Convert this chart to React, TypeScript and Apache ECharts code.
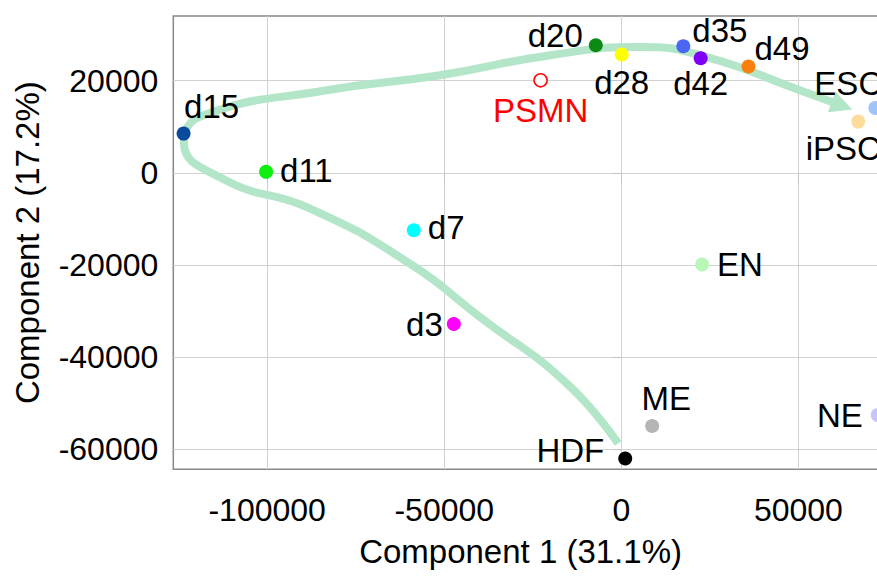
import React, { useEffect, useRef } from "react";
import * as echarts from "echarts";

// ---- data ----
const sampleNames = ["HDF", "d3", "d7", "d11", "d15", "d20", "d28", "d35", "d42", "d49", "iPSC", "ESC", "EN", "ME", "NE", "PSMN"];
const component1 = [1100, -47300, -58600, -100300, -123600, -7200, 100, 17500, 22400, 35900, 66900, 71700, 22800, 8700, 72400, -22800];
const component2 = [-61950, -32800, -12450, 200, 8500, 27650, 25650, 27450, 24850, 23050, 11100, 14050, -19900, -54900, -52550, 20050];

// trajectory (differentiation path) drawn as an annotation curve
const pathX = [-900, -15400, -39900, -59700, -87900, -112000, -123500, -118500, -83200, -51200, -20000, 5300, 24100, 50400, 62300];
const pathY = [-58700, -45700, -31300, -19700, -7750, -1500, 6500, 12300, 17900, 21150, 25500, 27300, 25100, 17900, 14550];

const xTickValues = [-100000, -50000, 0, 50000];
const yTickValues = [-60000, -40000, -20000, 0, 20000];

const xTitle = "Component 1 (31.1%)";
const yTitle = "Component 2 (17.2%)";

// ---- styles ----
const pointColors: Record<string, string> = {
  HDF: "#000000",
  d3: "#ff00ff",
  d7: "#00ffff",
  d11: "#11ee11",
  d15: "#0a4a9c",
  d20: "#0d8a14",
  d28: "#ffff00",
  d35: "#4a66f5",
  d42: "#7f00f5",
  d49: "#f7800f",
  iPSC: "#fddc9c",
  ESC: "#a0c4fa",
  EN: "#b9f7b9",
  ME: "#b4b4b4",
  NE: "#c9c3fb",
  PSMN: "#ff0000",
};

const labelCfg: Record<string, any> = {
  HDF: { position: "left", distance: 14, offset: [0, -8] },
  d3: { position: "left", distance: 4 },
  d7: { position: "right", distance: 7, offset: [0, -3] },
  d11: { position: "right", distance: 7, offset: [0, -1] },
  d15: { position: "top", distance: 4, offset: [28, 0] },
  d20: { position: "left", distance: 6, offset: [0, -10] },
  d28: { position: "bottom", distance: 4 },
  d35: { position: "right", distance: 2, offset: [0, -16] },
  d42: { position: "bottom", distance: 2 },
  d49: { position: "right", distance: 3, offset: [-4, -18] },
  iPSC: { position: "bottom", distance: 3, offset: [-15, 0] },
  ESC: { position: "top", distance: 1, offset: [-27, 0] },
  EN: { position: "right", distance: 8 },
  ME: { position: "top", distance: 4, offset: [14, 0] },
  NE: { position: "left", distance: 8 },
  PSMN: { position: "bottom", distance: 6 },
};

const FONT = "'Liberation Sans', Arial, Helvetica, sans-serif";
const CURVE_COLOR = "#b3e6c9";

export default function App() {
  const ref = useRef<HTMLDivElement>(null);

  useEffect(() => {
    if (!ref.current) return;
    const chart = echarts.init(ref.current, undefined, { renderer: "svg" });

    const pointData = sampleNames.map((name, i) => {
      const isHollow = name === "PSMN";
      return {
        name,
        value: [component1[i], component2[i]],
        symbolSize: isHollow ? 13 : 14,
        itemStyle: isHollow
          ? { color: "#ffffff", borderColor: pointColors[name], borderWidth: 1.5, opacity: 1 }
          : { color: pointColors[name], borderWidth: 0, opacity: 1 },
        label: {
          show: true,
          formatter: name,
          fontSize: 33,
          fontFamily: FONT,
          color: isHollow ? "#ff0000" : "#000000",
          opacity: 1,
          ...labelCfg[name],
        },
      };
    });

    const curveData = pathX.map((x, i) => [x, pathY[i]]);
    const last = pathX.length - 1;
    const plain = (v: number) => String(v);

    chart.setOption({
      animation: false,
      backgroundColor: "#ffffff",
      grid: {
        left: 173.3,
        top: 16,
        width: 784.5,
        height: 453.3,
        show: true,
        borderColor: "#888888",
        borderWidth: 1.5,
        backgroundColor: "transparent",
      },
      xAxis: {
        type: "value",
        min: -126500,
        max: 95000,
        name: xTitle,
        nameLocation: "middle",
        nameGap: 66,
        nameTextStyle: { fontSize: 33, color: "#000", fontFamily: FONT, padding: [0, 90, 0, 0] },
        axisLine: { show: false },
        axisTick: { show: true, length: 10, lineStyle: { color: "#c4c4c4" }, customValues: xTickValues },
        axisLabel: { customValues: xTickValues, formatter: plain, fontSize: 32, color: "#000", fontFamily: FONT, margin: 25 },
        splitLine: { show: true, lineStyle: { color: "#d2d2d2", width: 1 } },
      },
      yAxis: {
        type: "value",
        min: -64300,
        max: 34000,
        name: yTitle,
        nameLocation: "middle",
        nameGap: 129,
        nameTextStyle: { fontSize: 33, color: "#000", fontFamily: FONT },
        axisLine: { show: false },
        axisTick: { show: true, length: 10, lineStyle: { color: "#c4c4c4" }, customValues: yTickValues },
        axisLabel: { customValues: yTickValues, formatter: plain, fontSize: 32, color: "#000", fontFamily: FONT, margin: 15 },
        splitLine: { show: true, lineStyle: { color: "#d2d2d2", width: 1 } },
      },
      series: [
        {
          type: "line",
          data: curveData,
          smooth: 0.5,
          symbol: "none",
          z: 1,
          silent: true,
          lineStyle: { color: CURVE_COLOR, width: 8, cap: "butt" },
        },
        {
          type: "scatter",
          data: [[pathX[last], pathY[last]]],
          symbol: "triangle",
          symbolSize: [22, 22],
          symbolRotate: -110,
          z: 1,
          silent: true,
          itemStyle: { color: CURVE_COLOR, opacity: 1 },
        },
        {
          type: "scatter",
          data: pointData,
          z: 3,
          clip: false,
        },
      ],
    });

    return () => chart.dispose();
  }, []);

  return (
    <div style={{ position: "fixed", left: 0, top: 0, width: 877, height: 576, overflow: "hidden", background: "#fff" }}>
      <div ref={ref} style={{ width: 1000, height: 576 }} />
    </div>
  );
}
